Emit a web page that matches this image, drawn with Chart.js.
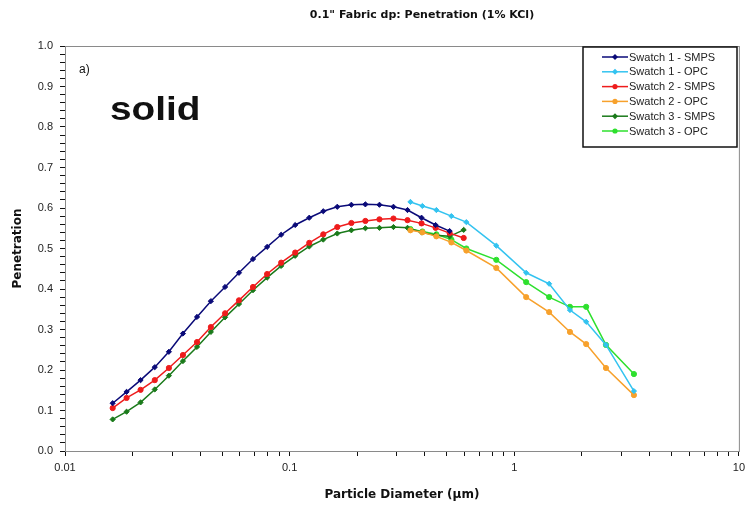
<!DOCTYPE html>
<html>
<head>
<meta charset="utf-8">
<script src="https://cdn.jsdelivr.net/npm/chart.js@4.4.1/dist/chart.umd.min.js"></script>
<style>
    html, body { margin: 0; padding: 0; background: #fff; }
    #wrap { width: 750px; height: 506px; }
</style>
</head>
<body>
<div id="wrap"><canvas id="penChart" width="750" height="506"></canvas></div>
<script>
// SMPS channel diameters (um)
const smpsDiam = [0.0163, 0.0188, 0.0217, 0.0251, 0.0290, 0.0335, 0.0387, 0.0446, 0.0516, 0.0595,
    0.0687, 0.0794, 0.0917, 0.1059, 0.1223, 0.1412, 0.1630, 0.1883, 0.2174, 0.2511,
    0.2899, 0.3348, 0.3866, 0.4465, 0.5156, 0.5954];

// OPC channel diameters (um)
const opcDiam = [0.345, 0.390, 0.450, 0.525, 0.612, 0.832, 1.13, 1.43, 1.77, 2.09, 2.56, 3.41];

const swatch1Smps = [0.118, 0.146, 0.175, 0.207, 0.245, 0.290, 0.331, 0.370, 0.405, 0.440,
    0.474, 0.504, 0.534, 0.558, 0.576, 0.592, 0.603, 0.608, 0.609, 0.608,
    0.603, 0.595, 0.576, 0.558, 0.543];
const swatch1Opc = [0.615, 0.605, 0.595, 0.580, 0.565, 0.507, 0.440, 0.413, 0.348, 0.319, 0.262, 0.148];

const swatch2Smps = [0.106, 0.131, 0.151, 0.175, 0.205, 0.237, 0.269, 0.306, 0.340, 0.372,
    0.405, 0.437, 0.465, 0.490, 0.514, 0.535, 0.553, 0.563, 0.568, 0.572,
    0.574, 0.570, 0.562, 0.551, 0.538, 0.526];
const swatch2Opc = [0.545, 0.540, 0.530, 0.515, 0.495, 0.452, 0.380, 0.343, 0.294, 0.264, 0.205, 0.138];

const swatch3Smps = [0.078, 0.097, 0.120, 0.152, 0.186, 0.222, 0.257, 0.294, 0.330, 0.363,
    0.397, 0.428, 0.457, 0.482, 0.505, 0.522, 0.537, 0.545, 0.550, 0.551,
    0.553, 0.551, 0.540, 0.533, 0.530, 0.546];
const swatch3Opc = [0.548, 0.542, 0.535, 0.522, 0.500, 0.472, 0.417, 0.380, 0.356, 0.356, 0.262, 0.190];

// tick values for the log axis (minor ticks get no label)
const xTicks = [0.01, 0.02, 0.03, 0.04, 0.05, 0.06, 0.07, 0.08, 0.09,
    0.1, 0.2, 0.3, 0.4, 0.5, 0.6, 0.7, 0.8, 0.9,
    1, 2, 3, 4, 5, 6, 7, 8, 9, 10];
const xLabels = [0.01, 0.1, 1, 10];

const chartTitle = '0.1" Fabric dp: Penetration (1% KCl)';

const sansFont = '"Liberation Sans", Arial, sans-serif';
const wideFont = '"DejaVu Sans", Verdana, sans-serif';

const toPoints = (xs, ys) => ys.map((y, i) => ({ x: xs[i], y: y }));

const makeSet = (label, xs, ys, color, style) => ({
    label: label,
    data: toPoints(xs, ys),
    borderColor: color,
    backgroundColor: color,
    borderWidth: 1.5,
    pointStyle: style,
    pointRadius: 2.6,
    pointBorderWidth: 1,
    tension: 0,
});

const datasets = [
    makeSet('Swatch 1 - SMPS', smpsDiam, swatch1Smps, '#0a0a78', 'rectRot'),
    makeSet('Swatch 1 - OPC', opcDiam, swatch1Opc, '#33c3f0', 'rectRot'),
    makeSet('Swatch 2 - SMPS', smpsDiam, swatch2Smps, '#ee1c1c', 'circle'),
    makeSet('Swatch 2 - OPC', opcDiam, swatch2Opc, '#f7a12c', 'circle'),
    makeSet('Swatch 3 - SMPS', smpsDiam, swatch3Smps, '#1a7a1a', 'rectRot'),
    makeSet('Swatch 3 - OPC', opcDiam, swatch3Opc, '#2ee02e', 'circle'),
];

// frame round the plot area, plus title and the text boxes
const extrasPlugin = {
    id: 'extras',
    beforeDatasetsDraw: (chart) => {
        const { ctx, chartArea } = chart;
        ctx.save();
        ctx.strokeStyle = '#8a8a8a';
        ctx.lineWidth = 1;
        ctx.strokeRect(chartArea.left + 0.5, chartArea.top + 0.5,
            chartArea.right - chartArea.left, chartArea.bottom - chartArea.top);
        ctx.restore();
    },
    afterDraw: (chart) => {
        const { ctx } = chart;
        ctx.save();

        // title
        ctx.fillStyle = '#111';
        ctx.font = 'bold 11px ' + wideFont;
        ctx.textAlign = 'center';
        ctx.textBaseline = 'middle';
        ctx.fillText(chartTitle, 422, 15);

        // panel label
        ctx.textAlign = 'left';
        ctx.font = '12px ' + sansFont;
        ctx.fillText('a)', 79, 70);

        // the big "solid" note is a bit stretched sideways in the original
        ctx.save();
        ctx.translate(110, 120);
        ctx.scale(1.14, 1);
        ctx.textBaseline = 'alphabetic';
        ctx.font = 'bold 34px ' + sansFont;
        ctx.fillText('solid', 0, 0);
        ctx.restore();

        // legend box
        const box = { x: 583, y: 47, w: 154, h: 100 };
        ctx.fillStyle = '#fff';
        ctx.fillRect(box.x, box.y, box.w, box.h);
        ctx.strokeStyle = '#111';
        ctx.lineWidth = 1.5;
        ctx.strokeRect(box.x, box.y, box.w, box.h);

        chart.data.datasets.forEach((ds, i) => {
            const rowY = 57 + i * 14.8;
            ctx.strokeStyle = ds.borderColor;
            ctx.lineWidth = 1.5;
            ctx.beginPath();
            ctx.moveTo(602, rowY);
            ctx.lineTo(628, rowY);
            ctx.stroke();

            ctx.fillStyle = ds.borderColor;
            ctx.beginPath();
            if (ds.pointStyle === 'circle') {
                ctx.arc(615, rowY, 2.6, 0, Math.PI * 2);
            } else {
                ctx.moveTo(615, rowY - 3);
                ctx.lineTo(618, rowY);
                ctx.lineTo(615, rowY + 3);
                ctx.lineTo(612, rowY);
                ctx.closePath();
            }
            ctx.fill();

            ctx.fillStyle = '#222';
            ctx.font = '11px ' + sansFont;
            ctx.textAlign = 'left';
            ctx.fillText(ds.label, 629, rowY + 0.5);
        });

        ctx.restore();
    },
};

const ctx = document.getElementById('penChart').getContext('2d');

new Chart(ctx, {
    type: 'line',
    data: { datasets: datasets },
    plugins: [extrasPlugin],
    options: {
        responsive: false,
        animation: false,
        layout: {
            padding: { top: 46, right: 10, left: 0, bottom: 0 },
        },
        plugins: {
            legend: { display: false },
            title: { display: false },
            tooltip: { enabled: false },
        },
        scales: {
            x: {
                type: 'logarithmic',
                min: 0.01,
                max: 10,
                afterBuildTicks: (scale) => {
                    scale.ticks = xTicks.map((v) => ({ value: v }));
                },
                afterFit: (scale) => {
                    scale.height = 55;
                },
                ticks: {
                    autoSkip: false,
                    maxRotation: 0,
                    padding: 5,
                    color: '#222',
                    font: { size: 11, family: sansFont },
                    callback: (value) => (xLabels.includes(value) ? String(value) : ''),
                },
                grid: {
                    drawOnChartArea: false,
                    drawTicks: true,
                    tickLength: 5,
                    color: '#111',
                },
                border: { color: '#111', width: 1 },
                title: {
                    display: true,
                    text: 'Particle Diameter (µm)',
                    color: '#111',
                    font: { size: 12, weight: 'bold', family: wideFont },
                    padding: { top: 0, bottom: 4 },
                },
            },
            y: {
                type: 'linear',
                min: 0,
                max: 1,
                afterFit: (scale) => {
                    scale.width = 65;
                },
                ticks: {
                    stepSize: 0.02,
                    autoSkip: false,
                    padding: 7,
                    color: '#222',
                    font: { size: 11, family: sansFont },
                    callback: (value) => {
                        const tenths = value * 10;
                        return Math.abs(tenths - Math.round(tenths)) < 1e-6 ? value.toFixed(1) : '';
                    },
                },
                grid: {
                    drawOnChartArea: false,
                    drawTicks: true,
                    tickLength: 5,
                    color: '#111',
                },
                border: { color: '#111', width: 1 },
                title: {
                    display: true,
                    text: 'Penetration',
                    color: '#111',
                    font: { size: 12, weight: 'bold', family: wideFont },
                    padding: { top: 11, bottom: 0 },
                },
            },
        },
    },
});
</script>
</body>
</html>
